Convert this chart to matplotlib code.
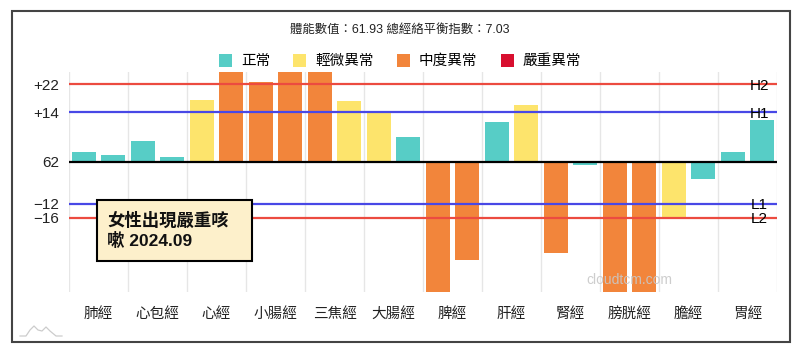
import matplotlib.pyplot as plt
from matplotlib.patches import Patch, Rectangle
from matplotlib.lines import Line2D
import numpy as np

plt.rcParams['font.family'] = ['Liberation Sans', 'Noto Sans CJK TC', 'DejaVu Sans']
plt.rcParams['axes.unicode_minus'] = True

# 經絡名稱
meridians = ['肺經', '心包經', '心經', '小腸經', '三焦經', '大腸經',
             '脾經', '肝經', '腎經', '膀胱經', '膽經', '胃經']

# 每條經絡兩根柱 (左 / 右), 超出範圍者會被截斷
left_values = [2.8, 5.9, 17.5, 22.6, 30, 14, -40, 11.2, -25.9, -40, -16, 2.7]
right_values = [1.8, 1.2, 30, 30, 17.3, 6.9, -28, 16.1, -1.1, -40, -4.9, 11.8]

left_status = ['正常', '正常', '輕微異常', '中度異常', '中度異常', '輕微異常',
               '中度異常', '正常', '中度異常', '中度異常', '輕微異常', '正常']
right_status = ['正常', '正常', '中度異常', '中度異常', '輕微異常', '正常',
                '中度異常', '輕微異常', '正常', '中度異常', '正常', '正常']

status_names = ['正常', '輕微異常', '中度異常', '嚴重異常']
status_colors = {'正常': '#57cdc6', '輕微異常': '#fde46c',
                 '中度異常': '#f2853b', '嚴重異常': '#d80f2f'}

# 參考線
ref_values = [22, 14, -12, -16]
ref_names = ['H2', 'H1', 'L1', 'L2']
ref_colors = ['#ec4b40', '#4848e6', '#4848e6', '#ec4b40']

ytick_values = [22, 14, 0, -12, -16]
ytick_labels = ['+22', '+14', '62', '\u221212', '\u221216']

title = '體能數值：61.93 總經絡平衡指數：7.03'
note = '女性出現嚴重咳\n嗽 2024.09'

fig = plt.figure(figsize=(8, 3.54), dpi=100)
ax = fig.add_axes([69 / 800, 1 - 292 / 354, 708 / 800, 220 / 354])

x = np.arange(len(meridians))
ax.bar(x - 0.25, left_values, width=0.4,
       color=[status_colors[s] for s in left_status], zorder=2)
ax.bar(x + 0.25, right_values, width=0.4,
       color=[status_colors[s] for s in right_status], zorder=2)

ax.set_xlim(-0.5, len(meridians) - 0.5)
ax.set_ylim(-37.1, 25.5)

for v, c in zip(ref_values, ref_colors):
    ax.axhline(v, color=c, lw=1.6, zorder=3)
ax.axhline(0, color='black', lw=1.6, zorder=3)

for v, name in zip(ref_values, ref_names):
    ax.text(len(meridians) - 0.8, v - 0.4, name, ha='center', va='center',
            fontsize=11, color='black', zorder=4)

ax.set_xticks(x)
ax.set_xticklabels(meridians, fontsize=10.5, color='#222222')
ax.set_xticks(np.arange(len(meridians) + 1) - 0.5, minor=True)
ax.grid(which='minor', axis='x', color='#e6e6e6', lw=1, zorder=0)
ax.set_yticks(ytick_values)
ax.set_yticklabels(ytick_labels, fontsize=11, color='#222222')
ax.tick_params(axis='both', which='both', length=0)
ax.tick_params(axis='x', pad=11)
ax.tick_params(axis='y', pad=7)
for s in ax.spines.values():
    s.set_visible(False)

# 浮水印
ax.text(9.0, -33.8, 'cloudtcm.com', ha='center', va='center', fontsize=10,
        color='#c8c8c8', alpha=0.9, zorder=5)

fig.text(0.5, 1 - 30 / 354, title, ha='center', va='center', fontsize=8.9, color='#222222')

handles = [Patch(facecolor=status_colors[s], edgecolor='none') for s in status_names]
fig.legend(handles, status_names, loc='center', bbox_to_anchor=(0.5, 1 - 61 / 354),
           ncol=4, frameon=False, fontsize=10.5, handlelength=0.9, handleheight=1.0,
           handletextpad=0.6, columnspacing=1.6)

# 註解框
fig.add_artist(Rectangle((97 / 800, 1 - 261 / 354), 155 / 800, 61 / 354,
                         transform=fig.transFigure, facecolor='#fdf0cb',
                         edgecolor='black', lw=1.5, zorder=6))
fig.text(107 / 800, 1 - 230.5 / 354, note, ha='left', va='center', fontsize=12.5,
         fontweight='bold', linespacing=1.25, color='#111111', zorder=7)

# 外框
fig.add_artist(Rectangle((12 / 800, 1 - 342 / 354), 778 / 800, 331 / 354,
                         transform=fig.transFigure, facecolor='none',
                         edgecolor='#444444', lw=1.5))

# 左下角小圖示
lx = np.array([20, 26, 30, 34, 38, 42, 46, 50, 56, 62]) / 800
ly = 1 - np.array([336, 336, 330, 326, 330, 331, 327, 331, 336, 336]) / 354
fig.add_artist(Line2D(lx, ly, color='#cccccc', lw=0.9))

fig.savefig('out.png', dpi=100)
